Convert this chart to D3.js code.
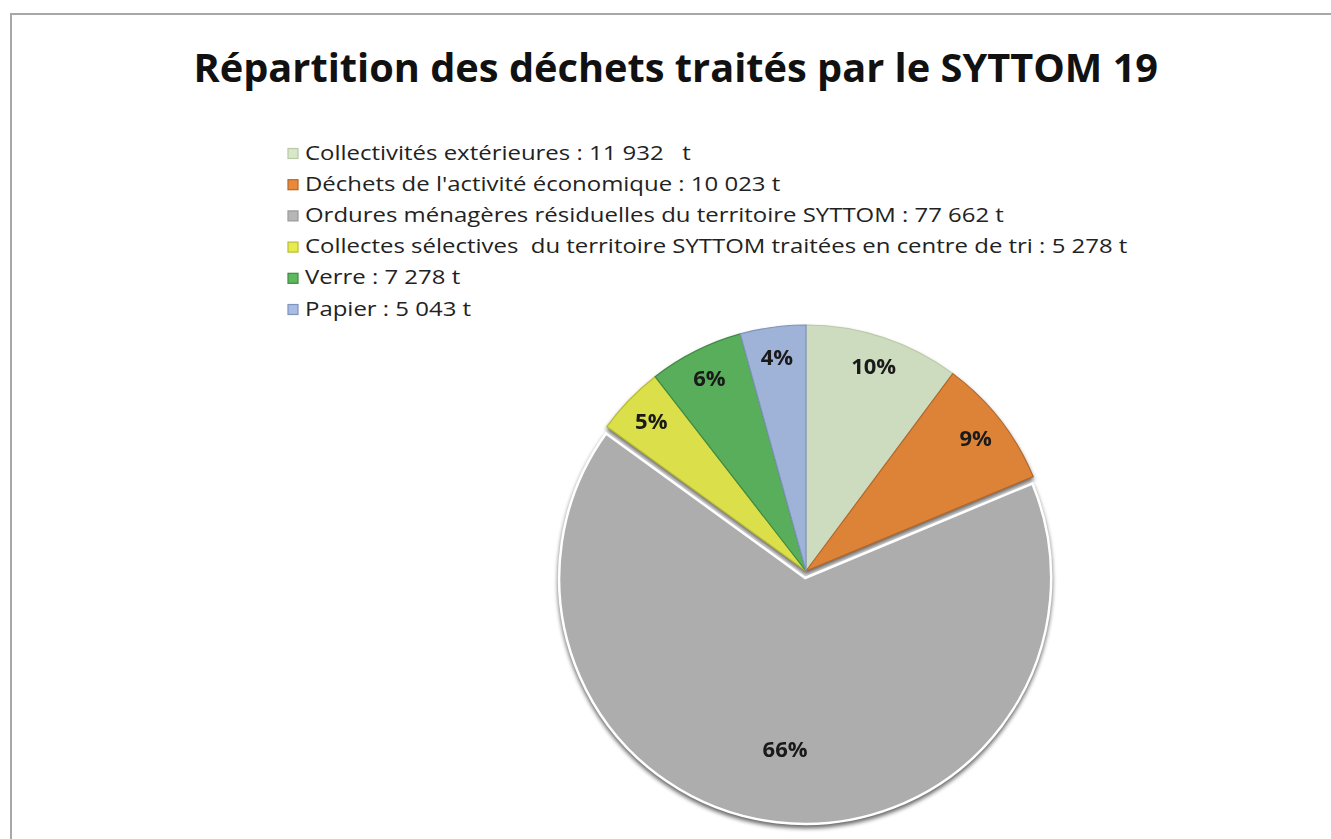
<!DOCTYPE html>
<html>
<head>
<meta charset="utf-8">
<script src="https://cdn.jsdelivr.net/npm/d3@7"></script>
<style>
  body { margin: 0; background: #fff; }
  svg { display: block; }
  text { white-space: pre; }
</style>
</head>
<body>
<svg id="chart" width="1331" height="839"></svg>
<script>
// data
var labels = ["Collectivités extérieures : 11 932   t",
              "Déchets de l'activité économique : 10 023 t",
              "Ordures ménagères résiduelles du territoire SYTTOM : 77 662 t",
              "Collectes sélectives  du territoire SYTTOM traitées en centre de tri : 5 278 t",
              "Verre : 7 278 t",
              "Papier : 5 043 t"];
var values = [11932, 10023, 77662, 5278, 7278, 5043];
var colors = ["#d8e7c9", "#e98a3b", "#b6b6b6", "#e7eb4e", "#5db85f", "#a8bce4"];
var edges = ["#b9c9a5", "#b5672a", "#9a9a9a", "#b9bd32", "#3f8a41", "#7f93bd"];
var title = "Répartition des déchets traités par le SYTTOM 19";

var svg = d3.select("#chart");
var cx = 806, cy = 571, R = 246;
var total = d3.sum(values);

// frame
svg.append("path")
  .attr("d", "M 11 839 L 11 14 L 1331 14")
  .attr("fill", "none")
  .attr("stroke", "#a8a8a8")
  .attr("stroke-width", 2);

var defs = svg.append("defs");
var f = defs.append("filter").attr("id", "shadow")
  .attr("color-interpolation-filters", "sRGB")
  .attr("x", "-10%").attr("y", "-10%").attr("width", "120%").attr("height", "125%");
f.append("feGaussianBlur").attr("in", "SourceAlpha").attr("stdDeviation", 2);
f.append("feOffset").attr("dx", 0).attr("dy", 3).attr("result", "b");
f.append("feComponentTransfer").append("feFuncA").attr("type", "linear").attr("slope", 0.6);
var m = f.append("feMerge");
m.append("feMergeNode");
m.append("feMergeNode").attr("in", "SourceGraphic");

colors.forEach(function(c, i) {
  var g = defs.append("radialGradient").attr("id", "g" + i)
    .attr("gradientUnits", "userSpaceOnUse")
    .attr("cx", cx).attr("cy", cy).attr("r", R);
  g.append("stop").attr("offset", "0%").attr("stop-color", c);
  g.append("stop").attr("offset", "92%").attr("stop-color", c);
  g.append("stop").attr("offset", "97%").attr("stop-color", d3.color(c).brighter(0.2));
  g.append("stop").attr("offset", "100%").attr("stop-color", d3.color(c).darker(0.15));
});

// squeeze a text horizontally so it takes w pixels, like the narrow original font
function squeeze(sel, x, y, w, anchor) {
  var n = sel.node().getComputedTextLength();
  var k = w / n;
  var x0 = anchor == "middle" ? x - w / 2 : x;
  sel.attr("text-anchor", "start").attr("x", 0).attr("y", 0)
    .attr("transform", "translate(" + x0 + "," + y + ") scale(" + k + ",1)");
  return k;
}

// title
var tt = svg.append("text")
  .attr("font-family", "Open Sans, sans-serif")
  .attr("font-weight", "bold")
  .attr("font-size", 40)
  .attr("fill", "#111")
  .text(title);
squeeze(tt, 676, 82, 965, "middle");

// legend
var legend = svg.append("g");
var rowY = d3.scaleLinear().domain([0, labels.length - 1]).range([153, 309]);
var rows = labels.map(function(l, i) {
  var y = rowY(i);
  legend.append("rect")
    .attr("x", 288).attr("y", y - 4.5).attr("width", 10).attr("height", 10)
    .attr("fill", colors[i]).attr("stroke", edges[i]).attr("stroke-width", 1.2);
  return legend.append("text")
    .attr("font-family", "Open Sans, sans-serif")
    .attr("font-size", 19.5)
    .attr("fill", "#222")
    .text(l);
});
var k = rows[3].node().getComputedTextLength();
k = 823 / k;
rows.forEach(function(t, i) {
  t.attr("transform", "translate(305," + (rowY(i) + 6.5) + ") scale(" + k + ",1)");
});

// pie
var pie = d3.pie().sort(null).value(function(d) { return d; });
var arc = d3.arc().innerRadius(0).outerRadius(R);
var arcs = pie(values);

var pg = svg.append("g").attr("transform", "translate(" + cx + "," + cy + ")")
  .attr("filter", "url(#shadow)");

pg.selectAll("path")
  .data(arcs)
  .enter().append("path")
  .attr("d", arc)
  .attr("transform", function(d) {
    // the big slice is pulled out a little
    if (d.value / total < 0.5) return null;
    var a = (d.startAngle + d.endAngle) / 2;
    return "translate(" + (Math.sin(a) * 7) + "," + (-Math.cos(a) * 7) + ")";
  })
  .attr("fill", function(d, i) { return "url(#g" + i + ")"; })
  .attr("stroke", function(d, i) { return d.value / total > 0.5 ? "#fff" : edges[i]; })
  .attr("stroke-width", function(d) { return d.value / total > 0.5 ? 2.5 : 1.2; });

// percent labels
pg.selectAll("text.pct")
  .data(arcs)
  .enter().append("text")
  .attr("class", "pct")
  .attr("transform", function(d) {
    var a = (d.startAngle + d.endAngle) / 2;
    var r = d.value / total > 0.5 ? 0.73 * R : 0.875 * R;
    return "translate(" + (Math.sin(a) * r) + "," + (-Math.cos(a) * r) + ")";
  })
  .attr("dy", "0.35em")
  .attr("text-anchor", "middle")
  .attr("font-family", "Open Sans, sans-serif")
  .attr("font-weight", "bold")
  .attr("font-size", 22)
  .attr("fill", "#1a1a1a")
  .text(function(d) { return Math.round(d.value / total * 100) + "%"; });
</script>
</body>
</html>
